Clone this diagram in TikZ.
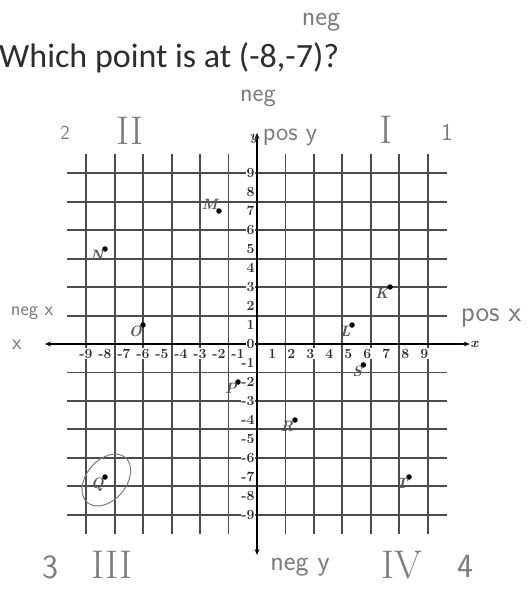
\documentclass[tikz,border=0pt]{standalone}
\usepackage{fontspec}
\usetikzlibrary{arrows.meta}
\newfontfamily\titlefont{Carlito}
\definecolor{scanink}{HTML}{2E2E2E}
\definecolor{gridgray}{HTML}{4C4C4C}
\definecolor{pencil}{HTML}{7C7C7C}
\definecolor{ptgray}{HTML}{555555}

\begin{document}
\begin{tikzpicture}[x=1pt,y=-1pt,
  hand/.style={text=pencil,font=\sffamily\fontsize{22}{22}\selectfont,inner sep=0pt},
  numeral/.style={text=pencil,font=\rmfamily\fontsize{40}{40}\selectfont,inner sep=0pt},
  tick/.style={text=scanink,font=\rmfamily\bfseries\fontsize{14}{14}\selectfont,fill=white,inner sep=0.4pt},
  dot/.style={circle,fill=black,inner sep=0pt,minimum size=5.5pt},
  ptlabel/.style={text=ptgray,font=\rmfamily\bfseries\itshape\fontsize{15}{15}\selectfont,inner sep=0.5pt,label distance=-2pt},
  >={Stealth[length=6pt,width=5pt]}]
\useasboundingbox (0,0) rectangle (531,590);

% question
\node[anchor=base west,font=\titlefont\fontsize{34}{34}\selectfont,text=scanink,inner sep=0pt]
  (question) at (-1,67) {Which point is at (-8,-7)?};

% coordinate plane
\begin{scope}[shift={(257pt,-344pt)},x=19pt,y=19pt]
  \draw[gridgray,line width=1.9pt] (-10,-10) grid (10,10);
  \coordinate (xleftend) at (-11.16,0);
  \coordinate (xrightend) at (11.2,0);
  \coordinate (ytopend) at (0,11.1);
  \coordinate (ybotend) at (0,-11.1);
  \draw[black,line width=1.8pt,<->] (xleftend) -- (xrightend);
  \draw[black,line width=1.8pt,<->] (ybotend) -- (ytopend);
  \node[tick,fill=none,anchor=west] (xname) at (xrightend) {\textit{x}};
  \node[tick,fill=none,anchor=east] (yname) at (0.1,10.8) {\textit{y}};
  % axis numbers
  \foreach \i in {1,...,9} {
    \node[tick] (xpos\i) at (\i-0.2,-0.5) {\i};
    \node[tick] (xneg\i) at (-\i,-0.5) {-\i};
    \node[tick,anchor=east] (ypos\i) at (-0.1,\i) {\i};
    \node[tick,anchor=east] (yneg\i) at (-0.1,-\i) {-\i};
  }
  \node[tick,anchor=east] (yzero) at (-0.1,0) {0};
  % plotted points
  \foreach \name/\px/\py/\pos in {M/-2/7/above left,N/-8/5/below left,O/-6/1/below left,
      K/7/3/below left,L/5/1/below left,S/5.6/-1.1/below left,P/-1/-2/below left,
      R/2/-4/below left,Q/-8/-7/below left,T/8/-7/below left}
    \node[dot,label={[ptlabel]\pos:\name}] (pt\name) at (\px,\py) {};
  % pencil ring round Q
  \coordinate (qring) at (-7.93,-7.16);
  \draw[pencil,line width=1pt,rotate=50] (qring) ellipse [x radius=1.55, y radius=1.05];
\end{scope}

% pencil notes
\node[hand,font=\sffamily\fontsize{28}{28}\selectfont] (negtop) at (321,22) {neg};
\node[hand,font=\sffamily\fontsize{26}{26}\selectfont] (negyhigh) at (258,98) {neg};
\node[hand,font=\sffamily\fontsize{20}{20}\selectfont] (quadtwo) at (65,133) {2};
\node[numeral] (quadII) at (130,131) {II};
\node[hand,font=\sffamily\fontsize{26}{26}\selectfont] (posy) at (290,137) {pos y};
\node[numeral] (quadI) at (386,130) {I};
\node[hand,font=\sffamily\fontsize{24}{24}\selectfont] (quadone) at (447,132) {1};
\node[hand,font=\sffamily\fontsize{20}{20}\selectfont] (negx) at (32,313) {neg x};
\node[hand] (xleft) at (17,345) {x};
\node[hand,font=\sffamily\fontsize{29}{29}\selectfont] (posx) at (491,318) {pos x};
\node[hand,font=\sffamily\fontsize{34}{34}\selectfont] (quadthree) at (50,567) {3};
\node[numeral] (quadIII) at (112,565) {III};
\node[hand,font=\sffamily\fontsize{28}{28}\selectfont] (negy) at (300,567) {neg y};
\node[numeral] (quadIV) at (402,565) {IV};
\node[hand,font=\sffamily\fontsize{34}{34}\selectfont] (quadfour) at (465,566) {4};
\end{tikzpicture}
\end{document}
